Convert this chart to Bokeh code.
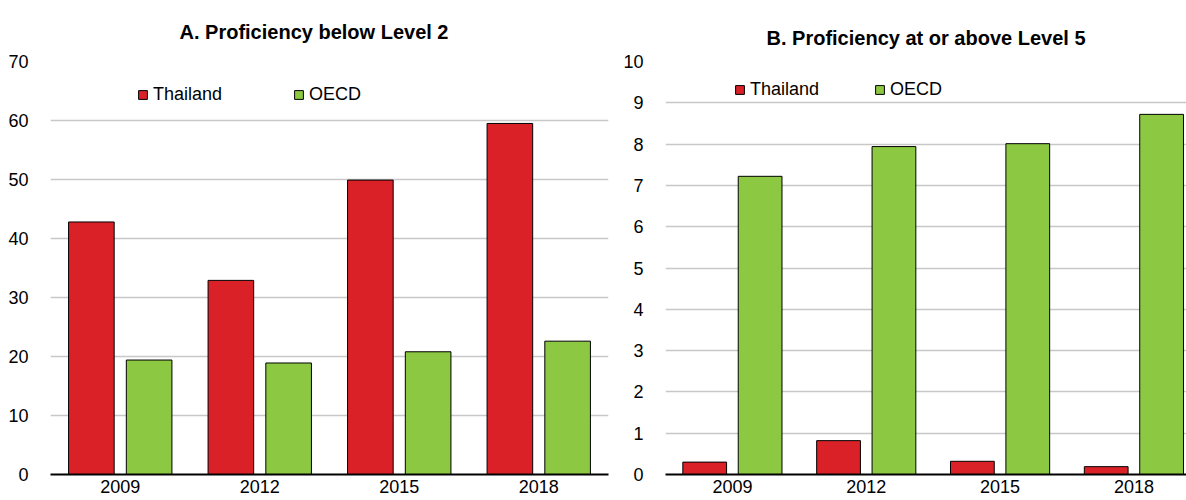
from bokeh.plotting import figure
from bokeh.layouts import row
from bokeh.models import ColumnDataSource, Legend, LegendItem, FixedTicker, Range1d
from bokeh.transform import dodge
from bokeh.embed import file_html
from bokeh.resources import INLINE

years = ["2009", "2012", "2015", "2018"]
below2_thailand = [42.8, 32.9, 49.9, 59.5]
below2_oecd = [19.4, 18.9, 20.8, 22.6]
above5_thailand = [0.30, 0.82, 0.32, 0.19]
above5_oecd = [7.22, 7.94, 8.01, 8.72]
series_names = ["Thailand", "OECD"]

RED = "#DA2128"
GREEN = "#8CC841"
FONT = "'Liberation Sans', Arial, sans-serif"


def make_panel(title, thai, oecd, ymax, ystep, width, border_left, border_right,
               x_end, title_standoff, title_align, title_offset, ylabel_standoff,
               legend_loc, label_width):
    pos = [i + 0.5 for i in range(len(years))]
    src = ColumnDataSource(dict(x=pos, thai=thai, oecd=oecd))
    p = figure(width=width, height=500, x_range=Range1d(0, x_end),
               y_range=Range1d(0, ymax), output_backend="svg",
               toolbar_location=None, min_border_left=border_left,
               min_border_right=border_right, min_border_top=61,
               min_border_bottom=26)
    p.title.text = title
    p.title.align = title_align
    p.title.offset = title_offset
    p.title.text_font = FONT
    p.title.text_font_style = "bold"
    p.title.text_font_size = "20px"
    p.title.standoff = title_standoff
    p.title.text_color = "#000000"

    r1 = p.vbar(x=dodge("x", -0.207, range=p.x_range), top="thai", width=0.327,
                source=src, fill_color=RED, line_color="#000000", line_width=1)
    r2 = p.vbar(x=dodge("x", 0.207, range=p.x_range), top="oecd", width=0.327,
                source=src, fill_color=GREEN, line_color="#000000", line_width=1)

    p.xaxis.ticker = FixedTicker(ticks=pos)
    p.xaxis.major_label_overrides = {v: y for v, y in zip(pos, years)}
    p.xaxis.major_tick_line_color = None
    p.xaxis.minor_tick_line_color = None
    p.xaxis.axis_line_color = "#000000"
    p.xaxis.axis_line_width = 2
    p.xaxis.major_label_standoff = -1

    p.yaxis.ticker = FixedTicker(ticks=list(range(0, ymax + 1, ystep)))
    p.yaxis.major_tick_line_color = None
    p.yaxis.minor_tick_line_color = None
    p.yaxis.axis_line_color = None
    p.yaxis.major_label_standoff = ylabel_standoff

    for ax in (p.xaxis[0], p.yaxis[0]):
        ax.major_label_text_font = FONT
        ax.major_label_text_font_size = "18px"
        ax.major_label_text_color = "#000000"

    p.xgrid.grid_line_color = None
    p.ygrid.grid_line_color = "#C8C8C8"
    p.ygrid.grid_line_width = 1.5
    p.outline_line_color = None

    legend = Legend(items=[LegendItem(label=series_names[0], renderers=[r1]),
                           LegendItem(label=series_names[1], renderers=[r2])],
                    orientation="horizontal", location=legend_loc,
                    background_fill_alpha=0, border_line_color=None,
                    padding=0, margin=0, spacing=0, glyph_width=11,
                    glyph_height=11, label_standoff=5, label_width=label_width,
                    label_text_font=FONT, label_text_font_size="18px",
                    label_text_color="#000000")
    p.add_layout(legend)
    return p


left = make_panel("A. Proficiency below Level 2", below2_thailand, below2_oecd,
                  70, 10, 620, 50, 12, 4.0, 37, "left", 129, 16, (87, 369), 140)
right = make_panel("B. Proficiency at or above Level 5", above5_thailand, above5_oecd,
                   10, 1, 566, 44, 0, 3.893, 25, "center", 0, 16, (69, 374), 124)

layout = row(left, right)
open("out.html", "w").write(file_html(layout, INLINE))
